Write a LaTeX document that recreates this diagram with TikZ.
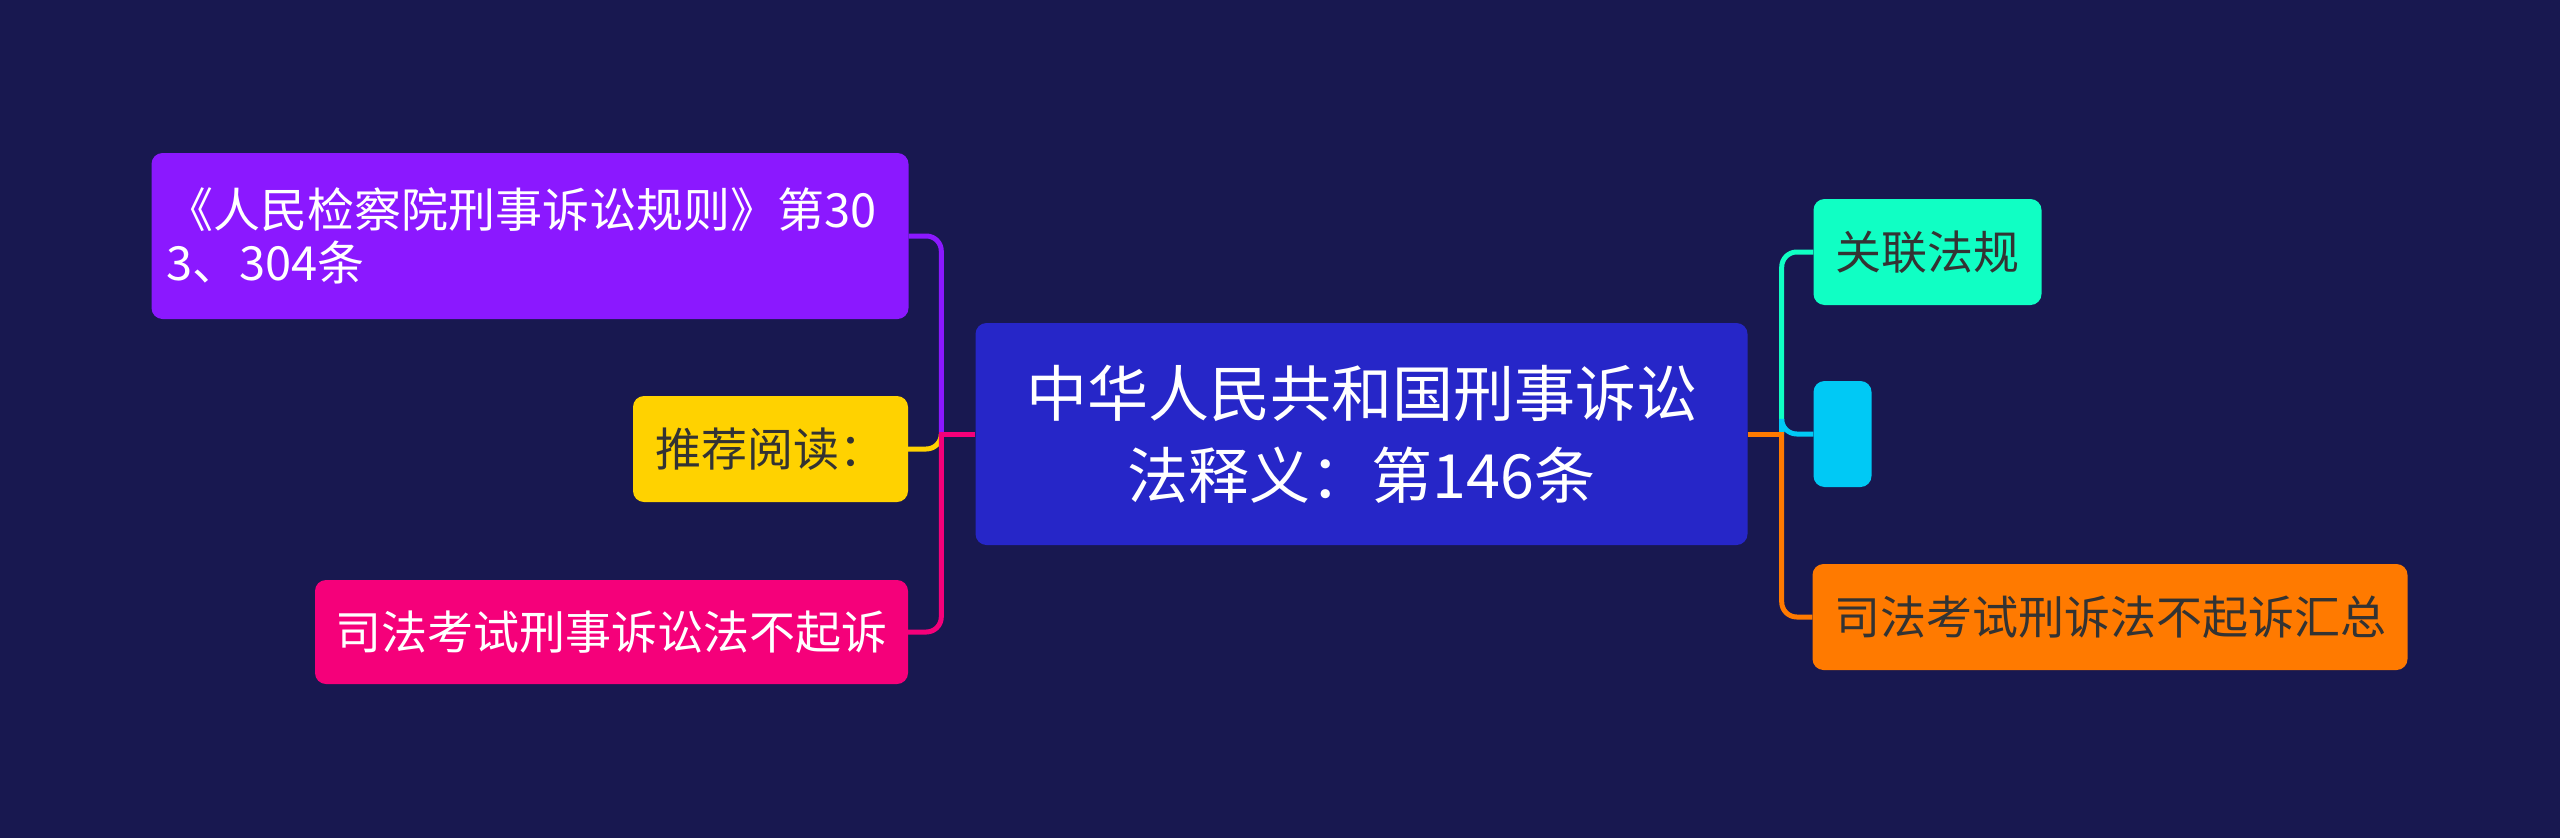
\documentclass[tikz,border=0pt]{standalone}
\usepackage{fontspec}
\usetikzlibrary{calc}
\newfontfamily\cjk{Noto Sans CJK SC}
\definecolor{bgc}{HTML}{181850}
\definecolor{cenc}{HTML}{2626C8}
\definecolor{purc}{HTML}{8B18FF}
\definecolor{yelc}{HTML}{FFD200}
\definecolor{pinc}{HTML}{F5007A}
\definecolor{grnc}{HTML}{10FFC4}
\definecolor{cyac}{HTML}{00C9F5}
\definecolor{orac}{HTML}{FF7A00}
\definecolor{darktxt}{HTML}{333333}
\begin{document}
\begin{tikzpicture}[x=1pt,y=-1pt,
  box/.style={rounded corners=11pt, inner sep=0pt, font=\cjk\fontsize{46}{53}\selectfont},
  conn/.style={line width=5pt, rounded corners=15pt}]
\useasboundingbox (0,0) rectangle (2560,838);
\fill[bgc] (0,0) rectangle (2560,838);
% nodes
\node[box, fill=cenc, text=white, minimum width=772pt, minimum height=222pt, align=center,
      font=\cjk\fontsize{61}{82}\selectfont] (c) at (1361.5,434) {中华人民共和国刑事诉讼\\法释义：第146条};
\node[box, fill=purc, text=white, minimum width=757pt, minimum height=166pt, inner xsep=15pt,
      text width=727pt, align=left, font=\cjk\fontsize{47}{53}\selectfont] (p) at (530,236)
      {《人民检察院刑事诉讼规则》第30\\3、304条};
\node[box, fill=yelc, text=darktxt, minimum width=275pt, minimum height=106pt] (y) at (770.5,449) {推荐阅读：};
\node[box, fill=pinc, text=white, minimum width=593pt, minimum height=104pt] (k) at (611.5,632) {司法考试刑事诉讼法不起诉};
\node[box, fill=grnc, text=darktxt, minimum width=228pt, minimum height=106pt] (g) at (1927.5,252) {关联法规};
\node[box, fill=cyac, minimum width=58pt, minimum height=106pt] (q) at (1842.5,434) {};
\node[box, fill=orac, text=darktxt, minimum width=595pt, minimum height=106pt] (o) at (2110,617) {司法考试刑诉法不起诉汇总};
% trunk points
\coordinate (lt) at ($(c.west)+(-34,0)$);
\coordinate (ltx) at ($(c.west)+(-36.5,0)$);
\coordinate (rt) at ($(c.east)+(34,0)$);
\coordinate (rtx) at ($(c.east)+(36.5,0)$);
% connectors left
\draw[conn, purc] (lt) |- (p.east);
\draw[conn, yelc] (lt) |- (y.east);
\draw[conn, pinc] (lt) |- (k.east);
\draw[conn, pinc] (c.west) -- (ltx);
% connectors right
\draw[conn, grnc] (rt) |- (g.west);
\draw[conn, cyac] (rt) |- (q.west);
\draw[conn, orac] (rt) |- (o.west);
\draw[conn, orac] (c.east) -- (rtx);
\end{tikzpicture}
\end{document}
